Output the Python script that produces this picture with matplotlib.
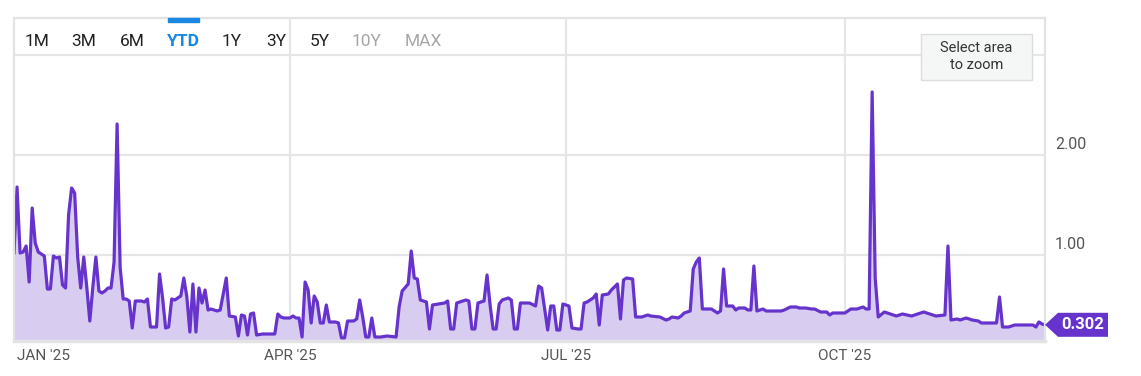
import matplotlib
matplotlib.use("Agg")
import matplotlib.pyplot as plt
import matplotlib.dates as mdates
from matplotlib.patches import Polygon, FancyBboxPatch, Rectangle
from matplotlib.transforms import IdentityTransform
import numpy as np
import pandas as pd

# days since 2025-01-01 and the value on that day
days = [-1, 0, 1, 2, 3, 4, 5, 6, 7, 9, 10, 11, 12, 13, 14, 15, 16, 17, 18, 19,
        20, 21, 22, 23, 24, 25, 26, 27, 28, 29, 30, 31, 32, 33, 34, 35, 36, 37, 38, 39,
        41, 42, 43, 44, 46, 47, 48, 49, 50, 51, 52, 53, 54, 55, 56, 57, 58, 59, 60, 61,
        62, 63, 64, 66, 67, 69, 70, 72, 73, 74, 75, 76, 77, 78, 79, 81, 83, 85, 86, 87,
        88, 90, 91, 92, 93, 94, 95, 96, 97, 98, 99, 100, 101, 102, 103, 105, 106, 107, 108, 109,
        111, 112, 113, 114, 115, 116, 117, 118, 120, 122, 125, 126, 127, 129, 130, 131, 132, 133, 135, 136,
        137, 139, 141, 142, 143, 144, 145, 146, 148, 149, 150, 151, 152, 153, 154, 155, 156, 157, 158, 159,
        160, 162, 163, 164, 165, 166, 168, 169, 171, 172, 173, 175, 176, 177, 178, 179, 180, 182, 183, 185,
        186, 187, 188, 190, 191, 192, 193, 195, 196, 198, 199, 200, 201, 203, 204, 206, 208, 209, 212, 214,
        215, 216, 218, 219, 220, 221, 222, 223, 224, 225, 226, 228, 229, 230, 231, 232, 233, 234, 236, 237,
        238, 240, 241, 242, 243, 244, 245, 246, 247, 250, 252, 253, 255, 257, 258, 260, 262, 263, 265, 267,
        268, 269, 271, 273, 275, 277, 279, 280, 281, 282, 283, 284, 286, 288, 290, 292, 295, 297, 299, 301,
        303, 306, 307, 308, 310, 311, 313, 315, 317, 318, 320, 322, 323, 324, 325, 327, 329, 331, 333, 335,
        336, 337, 338, 339]
values = [1.02, 1.68, 1.02, 1.03, 1.09, 0.73, 1.47, 1.12, 1.03, 0.99, 0.66, 0.66, 0.99, 0.97, 0.98, 0.70, 0.67, 1.40, 1.67, 1.62,
          0.98, 0.67, 0.98, 0.68, 0.34, 0.68, 0.98, 0.64, 0.62, 0.64, 0.67, 0.67, 0.93, 2.31, 0.88, 0.56, 0.56, 0.54, 0.27, 0.54,
          0.54, 0.53, 0.56, 0.28, 0.28, 0.81, 0.57, 0.27, 0.28, 0.56, 0.55, 0.57, 0.59, 0.77, 0.58, 0.23, 0.71, 0.23, 0.67, 0.52,
          0.65, 0.45, 0.46, 0.44, 0.45, 0.77, 0.39, 0.38, 0.19, 0.40, 0.39, 0.20, 0.41, 0.42, 0.20, 0.21, 0.21, 0.21, 0.41, 0.38,
          0.37, 0.37, 0.39, 0.37, 0.37, 0.18, 0.73, 0.65, 0.32, 0.59, 0.53, 0.32, 0.32, 0.50, 0.33, 0.33, 0.32, 0.17, 0.17, 0.34,
          0.34, 0.36, 0.55, 0.38, 0.18, 0.18, 0.37, 0.18, 0.18, 0.19, 0.18, 0.48, 0.64, 0.71, 1.04, 0.77, 0.76, 0.55, 0.53, 0.26,
          0.50, 0.51, 0.52, 0.54, 0.26, 0.26, 0.52, 0.53, 0.55, 0.54, 0.26, 0.26, 0.52, 0.53, 0.54, 0.80, 0.50, 0.26, 0.26, 0.51,
          0.55, 0.57, 0.55, 0.26, 0.26, 0.52, 0.52, 0.52, 0.49, 0.69, 0.67, 0.25, 0.49, 0.49, 0.25, 0.25, 0.51, 0.49, 0.27, 0.26,
          0.26, 0.52, 0.53, 0.57, 0.61, 0.30, 0.60, 0.61, 0.65, 0.71, 0.36, 0.75, 0.77, 0.76, 0.38, 0.38, 0.40, 0.39, 0.38, 0.35,
          0.36, 0.38, 0.37, 0.39, 0.42, 0.43, 0.44, 0.86, 0.93, 0.97, 0.46, 0.46, 0.46, 0.44, 0.42, 0.44, 0.86, 0.49, 0.49, 0.45,
          0.47, 0.47, 0.45, 0.45, 0.89, 0.44, 0.45, 0.46, 0.44, 0.44, 0.44, 0.45, 0.48, 0.48, 0.47, 0.47, 0.46, 0.46, 0.43, 0.43,
          0.40, 0.42, 0.42, 0.42, 0.46, 0.46, 0.48, 0.46, 0.46, 2.63, 0.77, 0.38, 0.43, 0.41, 0.39, 0.41, 0.39, 0.41, 0.43, 0.41,
          0.39, 0.40, 1.09, 0.35, 0.36, 0.35, 0.37, 0.35, 0.34, 0.32, 0.32, 0.32, 0.32, 0.58, 0.28, 0.28, 0.30, 0.30, 0.30, 0.30,
          0.28, 0.33, 0.31, 0.302]

tick_dates = ["2025-01-01", "2025-04-01", "2025-07-01", "2025-10-01"]
tick_labels = ["JAN '25", "APR '25", "JUL '25", "OCT '25"]
y_ticks = [1, 2]
y_labels = ["1.00", "2.00"]
buttons = ["1M", "3M", "6M", "YTD", "1Y", "3Y", "5Y", "10Y", "MAX"]

LINE = "#6633cc"
FILL = "#d8cdf0"
GRID = "#e6e6e6"

plt.rcParams["font.family"] = ["Roboto", "DejaVu Sans"]

W, H = 1141, 376
fig = plt.figure(figsize=(W / 100, H / 100), dpi=100)
ax = fig.add_axes([14 / W, 35 / H, (1045 - 14) / W, (358 - 35) / H])

dates = pd.Timestamp("2025-01-01") + pd.to_timedelta(days, unit="D")
ax.fill_between(dates, values, 0, color=FILL, lw=0)
ax.plot(dates, values, color=LINE, lw=2.3, solid_joinstyle="round")

ax.set_xlim(dates[0], dates[-1])
ax.set_ylim(0.14, 3.37)

ax.set_yticks([1, 2, 3])
ax.yaxis.grid(True, color=GRID, lw=1.6)
ax.set_yticklabels([])
ax.tick_params(axis="y", length=0)

xt = pd.to_datetime(tick_dates)
ax.set_xticks(xt)
ax.set_xticklabels(tick_labels, color="#555555", fontsize=11)
ax.tick_params(axis="x", length=0, pad=6)
ax.get_xticklabels()[0].set_horizontalalignment("left")
for d in xt[1:]:
    ax.axvline(d, color=GRID, lw=1.6, zorder=0.5)
ax.set_axisbelow(True)
for s in ax.spines.values():
    s.set_color("#e3e3e3")
    s.set_linewidth(1.6)
ax.spines["bottom"].set_linewidth(2.5)

for v, lab in zip(y_ticks, y_labels):
    ax.annotate(lab, xy=(1.0, v), xycoords=("axes fraction", "data"),
                xytext=(10, 3), textcoords="offset pixels",
                ha="left", va="bottom", fontsize=11.5, color="#555555")

# range buttons
btn_x = [36.7, 84, 132, 183.7, 232, 276, 320, 366.7, 423.4]
for name, bx in zip(buttons, btn_x):
    col = "#222222"
    weight = "normal"
    if name == "YTD":
        col, weight = "#1a87e0", "bold"
    elif name in ("10Y", "MAX"):
        col = "#a6a6a6"
    fig.text(bx / W, 1 - 41.5 / H, name, ha="center", va="center",
             fontsize=12.5, color=col, fontweight=weight)
fig.patches.append(Rectangle((168 / W, 1 - 21.7 / H), 31 / W, 3.6 / H,
                             transform=fig.transFigure, color="#1a87e0"))

# zoom hint box
fig.patches.append(FancyBboxPatch((921 / W, 1 - 79.5 / H), 111 / W, 46 / H,
                                  boxstyle="square,pad=0", transform=fig.transFigure,
                                  fc="#f5f7f7", ec="#dddddd", lw=1))
fig.text(976.5 / W, 1 - 56.5 / H, "Select area\nto zoom", ha="center", va="center",
         fontsize=10.5, color="#333333", linespacing=1.35)

# last value flag
fig.canvas.draw()
last = values[-1]
tx, ty = ax.transData.transform((mdates.date2num(dates[-1]), last))
verts = [(tx, ty), (tx + 13, ty + 12), (tx + 63, ty + 12), (tx + 63, ty - 12), (tx + 13, ty - 12)]
fig.patches.append(Polygon(verts, closed=True, transform=IdentityTransform(),
                           fc="#6633cc", ec="none"))
fig.text((tx + 38) / W, ty / H, f"{last:.3f}", ha="center", va="center",
         fontsize=12, color="white", fontweight="bold")

fig.savefig("out.png", dpi=100)
